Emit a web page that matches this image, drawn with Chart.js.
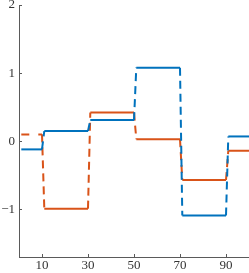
<!DOCTYPE html>
<html lang="en">
<head>
    <meta charset="UTF-8">
    <title>Step signals</title>
    <style>
        body {
            margin: 0;
            padding: 0;
            background: #ffffff;
        }
        #wrap {
            width: 249px;
            height: 273px;
        }
    </style>
    <script src="https://cdn.jsdelivr.net/npm/chart.js"></script>
</head>
<body>
    <div id="wrap"><canvas id="stepChart" width="249" height="273"></canvas></div>
    <script>
        // step segments: each level holds from segStart to segEnd
        const segStart = [1, 11, 31, 51, 71, 91];
        const segEnd = [10, 30, 50, 70, 90, 100];
        const blueVals = [-0.12, 0.15, 0.31, 1.08, -1.09, 0.07];
        const orangeVals = [0.1, -0.99, 0.42, 0.03, -0.57, -0.14];
        const xTicks = [10, 30, 50, 70, 90];
        const yTicks = [-1, 0, 1, 2];

        function stepPoints(vals) {
            const pts = [];
            for (let i = 0; i < vals.length; i++) {
                pts.push({x: segStart[i], y: vals[i]});
                pts.push({x: segEnd[i], y: vals[i]});
            }
            return pts;
        }

        // jumps between levels are dashed, flat parts solid
        function jumpDash(ctx) {
            return ctx.p0.parsed.y !== ctx.p1.parsed.y ? [8, 5] : undefined;
        }

        // the orange one also starts with a broken first level
        function orangeDash(ctx) {
            if (ctx.p0DataIndex === 0) return [8, 9];
            return jumpDash(ctx);
        }

        const axisColor = '#5a5a5a';
        const tickFont = {family: 'Liberation Serif', size: 13};

        // MATLAB-style ticks pointing into the plot
        const innerTicks = {
            id: 'innerTicks',
            afterDraw(chart) {
                const c = chart.ctx;
                const xs = chart.scales.x;
                const ys = chart.scales.y;
                const area = chart.chartArea;
                c.save();
                c.strokeStyle = axisColor;
                c.lineWidth = 1;
                c.beginPath();
                xTicks.forEach(v => {
                    const px = Math.round(xs.getPixelForValue(v)) + 0.5;
                    c.moveTo(px, area.bottom);
                    c.lineTo(px, area.bottom - 3);
                });
                yTicks.forEach(v => {
                    const py = Math.round(ys.getPixelForValue(v)) + 0.5;
                    c.moveTo(area.left, py);
                    c.lineTo(area.left + 3, py);
                });
                c.stroke();
                c.restore();
            }
        };

        const config = {
            type: 'line',
            data: {
                datasets: [{
                    label: 'blue',
                    data: stepPoints(blueVals),
                    borderColor: '#0072BD',
                    borderWidth: 2,
                    pointRadius: 0,
                    segment: {borderDash: jumpDash}
                }, {
                    label: 'orange',
                    data: stepPoints(orangeVals),
                    borderColor: '#D95319',
                    borderWidth: 2,
                    pointRadius: 0,
                    segment: {borderDash: orangeDash}
                }]
            },
            options: {
                responsive: false,
                animation: false,
                layout: {padding: {top: 5, right: 0, left: 0, bottom: 0}},
                plugins: {
                    legend: {display: false},
                    tooltip: {enabled: false}
                },
                scales: {
                    x: {
                        type: 'linear',
                        min: 0,
                        max: 100,
                        afterBuildTicks: s => { s.ticks = xTicks.map(v => ({value: v})); },
                        afterFit: s => { s.height = 16; s.paddingLeft = 0; s.paddingRight = 0; },
                        grid: {display: false, drawTicks: false},
                        border: {display: true, color: axisColor, width: 1},
                        ticks: {
                            color: '#333',
                            font: tickFont,
                            padding: 1,
                            maxRotation: 0
                        }
                    },
                    y: {
                        type: 'linear',
                        min: -1.7,
                        max: 2,
                        afterBuildTicks: s => { s.ticks = yTicks.map(v => ({value: v})); },
                        afterFit: s => { s.width = 19; s.paddingTop = 0; s.paddingBottom = 0; },
                        grid: {display: false, drawTicks: false},
                        border: {display: true, color: axisColor, width: 1},
                        ticks: {
                            color: '#333',
                            font: tickFont,
                            padding: 4,
                            callback: v => (v < 0 ? '\u2212' + Math.abs(v) : String(v))
                        }
                    }
                }
            },
            plugins: [innerTicks]
        };

        new Chart(document.getElementById('stepChart').getContext('2d'), config);
    </script>
</body>
</html>
